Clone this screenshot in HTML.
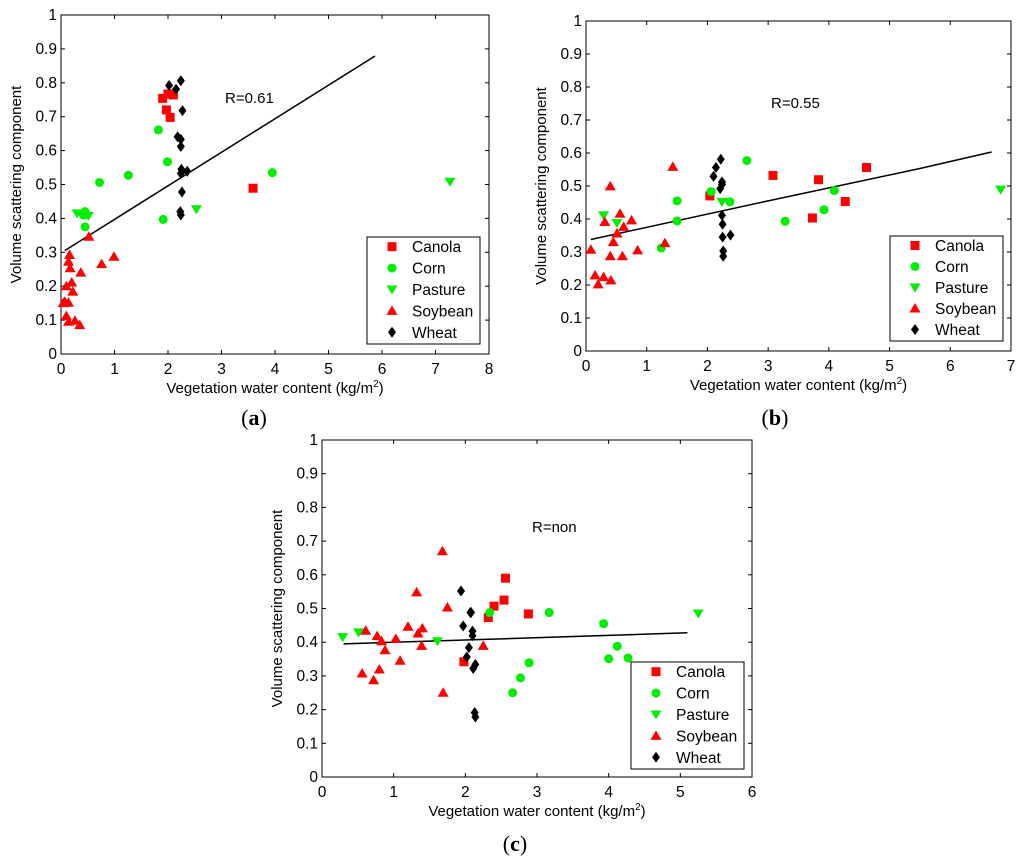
<!DOCTYPE html>
<html><head><meta charset="utf-8">
<style>
html,body{margin:0;padding:0;background:#fff;}
svg{display:block;font-family:"Liberation Sans",Arial,sans-serif;}
</style></head>
<body>
<svg id="fig" width="1024" height="865" viewBox="0 0 1024 865" xmlns="http://www.w3.org/2000/svg"></svg>
<script>
// ===== Panel (a) data =====
const aCanolaX=[1.9,2.0,2.1,1.97,2.04,3.59];
const aCanolaY=[0.754,0.767,0.764,0.72,0.698,0.489];
const aCornX=[1.82,1.99,1.26,0.72,0.45,0.42,0.45,1.91,3.95];
const aCornY=[0.661,0.567,0.527,0.506,0.42,0.41,0.375,0.397,0.535];
const aPastureX=[0.3,0.51,2.53,7.27];
const aPastureY=[0.415,0.407,0.427,0.508];
const aSoyX=[0.16,0.14,0.17,0.1,0.2,0.22,0.07,0.14,0.1,0.14,0.26,0.35,0.37,0.52,0.76,0.99,0.04];
const aSoyY=[0.292,0.272,0.253,0.2,0.211,0.184,0.154,0.151,0.112,0.095,0.098,0.085,0.24,0.346,0.265,0.287,0.15];
const aWheatX=[2.02,2.24,2.15,2.27,2.18,2.24,2.24,2.25,2.24,2.36,2.26,2.23,2.24];
const aWheatY=[0.792,0.806,0.781,0.718,0.641,0.633,0.612,0.545,0.533,0.539,0.478,0.42,0.41];
const aLineX=[0.07,5.87];
const aLineY=[0.305,0.879];
// ===== Panel (b) data =====
const bCanolaX=[2.04,3.08,3.83,4.62,3.73,4.27];
const bCanolaY=[0.47,0.532,0.519,0.556,0.403,0.453];
const bCornX=[2.06,2.65,1.5,1.5,1.24,2.37,3.28,3.92,4.09];
const bCornY=[0.483,0.577,0.455,0.394,0.312,0.452,0.393,0.428,0.486];
const bPastureX=[0.29,0.51,2.24,6.83];
const bPastureY=[0.411,0.388,0.452,0.489];
const bSoyX=[0.08,0.15,0.29,0.2,0.41,0.4,0.31,0.56,0.62,0.75,0.51,0.45,0.4,0.6,0.85,1.3,1.43];
const bSoyY=[0.307,0.229,0.224,0.202,0.214,0.499,0.391,0.416,0.376,0.396,0.356,0.33,0.287,0.287,0.305,0.327,0.558];
const bWheatX=[2.22,2.14,2.1,2.24,2.24,2.21,2.24,2.25,2.25,2.38,2.26,2.26];
const bWheatY=[0.581,0.556,0.529,0.512,0.505,0.492,0.411,0.384,0.345,0.351,0.303,0.287];
const bLineX=[0.08,3.0,5.5,6.68];
const bLineY=[0.338,0.455,0.553,0.603];
// ===== Panel (c) data =====
const cCanolaX=[2.56,2.54,2.4,2.32,2.88,1.98];
const cCanolaY=[0.59,0.525,0.507,0.473,0.484,0.342];
const cCornX=[2.34,3.17,3.93,4.12,4.0,4.27,2.89,2.77,2.66];
const cCornY=[0.488,0.488,0.455,0.388,0.351,0.353,0.339,0.294,0.25];
const cPastureX=[0.29,0.51,1.61,5.25];
const cPastureY=[0.415,0.429,0.403,0.485];
const cSoyX=[0.61,0.77,0.83,0.88,1.03,1.09,1.2,1.32,1.34,1.4,1.39,0.56,0.8,0.72,1.68,1.75,1.69,2.25];
const cSoyY=[0.434,0.418,0.403,0.376,0.41,0.345,0.446,0.548,0.426,0.441,0.389,0.307,0.319,0.287,0.67,0.503,0.25,0.389];
const cWheatX=[1.94,2.07,2.08,1.97,2.1,2.1,2.05,2.02,2.14,2.11,2.13,2.14];
const cWheatY=[0.552,0.488,0.488,0.448,0.433,0.419,0.384,0.356,0.334,0.322,0.191,0.178];
const cLineX=[0.3,2.5,5.1];
const cLineY=[0.395,0.41,0.428];

const yTicks=[0,0.1,0.2,0.3,0.4,0.5,0.6,0.7,0.8,0.9,1];
const yTickLabels=["0","0.1","0.2","0.3","0.4","0.5","0.6","0.7","0.8","0.9","1"];
const legendNames=["Canola","Corn","Pasture","Soybean","Wheat"];

const NS="http://www.w3.org/2000/svg";
const svg=document.getElementById('fig');
function mk(tag,attrs,parent){const e=document.createElementNS(NS,tag);for(const k in attrs)e.setAttribute(k,attrs[k]);(parent||svg).appendChild(e);return e;}

function marker(g,type,cx,cy){
  let e;
  if(type==="Canola") e=mk('rect',{x:cx-4.5,y:cy-4.5,width:9,height:9,fill:'#ff0000'},g);
  else if(type==="Corn") e=mk('circle',{cx:cx,cy:cy,r:4.5,fill:'#00ee00'},g);
  else if(type==="Pasture") e=mk('polygon',{points:`${cx-5.5},${cy-4} ${cx+5.5},${cy-4} ${cx},${cy+5}`,fill:'#00ee00'},g);
  else if(type==="Soybean") e=mk('polygon',{points:`${cx-5.5},${cy+4} ${cx+5.5},${cy+4} ${cx},${cy-5.5}`,fill:'#ff0000'},g);
  else e=mk('polygon',{points:`${cx},${cy-5.5} ${cx+4},${cy} ${cx},${cy+5.5} ${cx-4},${cy}`,fill:'#000'},g);
  return e;
}

function panel(id,L,R,T,B,xmax,series,lineX,lineY,rText,rX,rY,leg,label,labX,labY){
  const g=mk('g',{});
  
  
  const sx=v=>L+(R-L)*v/xmax, sy=v=>B-(B-T)*v;
  const frame=mk('rect',{x:L,y:T,width:R-L,height:B-T,fill:'none',stroke:'#000','stroke-width':1},g);
  
  
  for(let i=0;i<yTicks.length;i++){
    const y=sy(yTicks[i]);
    mk('line',{x1:L,x2:L+4,y1:y,y2:y,stroke:'#000'},g);
    mk('line',{x1:R,x2:R-4,y1:y,y2:y,stroke:'#000'},g);
    const t=mk('text',{x:L-4,y:y+5,'text-anchor':'end','font-size':15.5},g);
    t.textContent=yTickLabels[i];
    
    
  }
  for(let v=0;v<=xmax;v++){
    const x=sx(v);
    mk('line',{x1:x,x2:x,y1:B,y2:B-4,stroke:'#000'},g);
    mk('line',{x1:x,x2:x,y1:T,y2:T+4,stroke:'#000'},g);
    const t=mk('text',{x:x,y:B+20,'text-anchor':'middle','font-size':15.5},g);
    t.textContent=String(v);
    
    
  }
  const xt=mk('text',{x:(L+R)/2,y:B+39,'text-anchor':'middle','font-size':15},g);
  xt.innerHTML='Vegetation water content (kg/m<tspan dy="-6" font-size="10">2</tspan><tspan dy="6">)</tspan>';
  
  
  const yx=L-40, yy=(T+B)/2;
  const yt=mk('text',{x:yx,y:yy,'text-anchor':'middle','font-size':15,transform:`rotate(-90 ${yx} ${yy})`},g);
  yt.textContent='Volume scattering component';
  
  
  let d='';
  for(let i=0;i<lineX.length;i++) d+=(i?'L':'M')+sx(lineX[i])+','+sy(lineY[i]);
  const ln=mk('path',{d:d,fill:'none',stroke:'#000','stroke-width':1.5},g);
  
  
  const rt=mk('text',{x:rX,y:rY,'font-size':15},g);
  rt.textContent=rText;
  
  
  for(const s of series){
    const sg=mk('g',{},g);
    
    
    for(let i=0;i<s.x.length;i++){
      const m=marker(sg,s.name,sx(s.x[i]),sy(s.y[i]));
      
      
    }
  }
  const lg=mk('g',{},g);
  
  
  mk('rect',{x:leg[0],y:leg[1],width:leg[2]-leg[0],height:leg[3]-leg[1],fill:'#fff',stroke:'#000'},lg);
  const step=(leg[3]-leg[1])/5;
  for(let i=0;i<5;i++){
    const cy=leg[1]+step*(i+0.5)-1;
    const eg=mk('g',{},lg);
    
    
    marker(eg,legendNames[i],leg[0]+25,cy);
    const t=mk('text',{x:leg[0]+45,y:cy+5.5,'font-size':15.5},eg);
    t.textContent=legendNames[i];
  }
  const lb=mk('text',{x:labX,y:labY,'text-anchor':'middle','font-size':22,'font-family':'"Liberation Serif",serif'},svg);
  lb.innerHTML='(<tspan font-weight="bold">'+label+'</tspan>)';
  
  
}

panel('a',61,489,15,354,8,[
 {name:'Canola',x:aCanolaX,y:aCanolaY},{name:'Corn',x:aCornX,y:aCornY},
 {name:'Pasture',x:aPastureX,y:aPastureY},{name:'Soybean',x:aSoyX,y:aSoyY},
 {name:'Wheat',x:aWheatX,y:aWheatY}],aLineX,aLineY,'R=0.61',225,103,[367,237,480,344],'a',254,425);

panel('b',586,1011,21,351,7,[
 {name:'Canola',x:bCanolaX,y:bCanolaY},{name:'Corn',x:bCornX,y:bCornY},
 {name:'Pasture',x:bPastureX,y:bPastureY},{name:'Soybean',x:bSoyX,y:bSoyY},
 {name:'Wheat',x:bWheatX,y:bWheatY}],bLineX,bLineY,'R=0.55',771,108,[890,236,1003,341],'b',775,425);

panel('c',322,752,440,777,6,[
 {name:'Canola',x:cCanolaX,y:cCanolaY},{name:'Corn',x:cCornX,y:cCornY},
 {name:'Pasture',x:cPastureX,y:cPastureY},{name:'Soybean',x:cSoyX,y:cSoyY},
 {name:'Wheat',x:cWheatX,y:cWheatY}],cLineX,cLineY,'R=non',532,532,[631,662,744,769],'c',515,851);
</script>
</body></html>
